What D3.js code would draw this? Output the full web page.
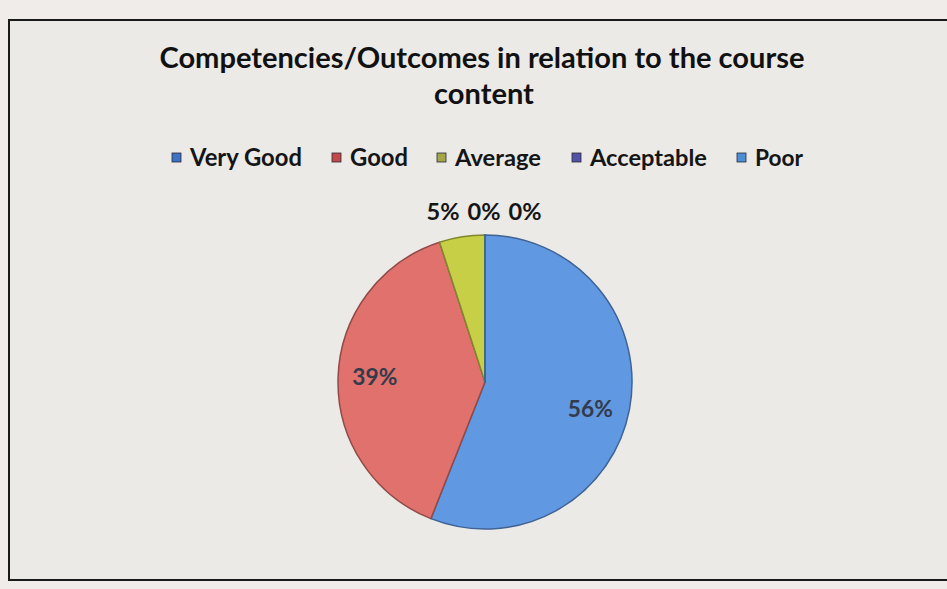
<!DOCTYPE html>
<html><head><meta charset="utf-8">
<script src="https://cdn.jsdelivr.net/npm/d3@7/dist/d3.min.js"></script>
<style>html,body{margin:0;padding:0;background:#eeebe8;overflow:hidden}</style>
</head><body><svg id="c" width="947" height="589"></svg>
<script>
const categories = ["Very Good","Good","Average","Acceptable","Poor"];
const values = [56, 39, 5, 0, 0];
const labels = ["56%","39%","5%","0%","0%"];
const sliceColors = ["#6198e2","#e0716d","#c6cf45","#7a66b0","#55b0d0"];
const swatchColors = ["#3d72c4","#c44848","#a4a646","#5253a6","#4c8fd6"];
const titleLines = ["Competencies/Outcomes in relation to the course","content"];

const svg = d3.select("#c");
const FONT = "Lato, 'Open Sans', sans-serif";

function fit(sel, w){
  const n = sel.node(); const fs = parseFloat(sel.attr("font-size"));
  const cur = n.getComputedTextLength();
  sel.attr("font-size", (fs*w/cur).toFixed(2));
}

// background & frame
svg.append("rect").attr("x",0).attr("y",0).attr("width",947).attr("height",589).attr("fill","#efece9");
svg.append("rect").attr("x",9).attr("y",20).attr("width",950).attr("height",560)
  .attr("fill","#ebeae7").attr("stroke","#1a1a1a").attr("stroke-width",2);

// title
const t1 = svg.append("text").attr("x",482).attr("y",68).attr("text-anchor","middle")
  .attr("font-family",FONT).attr("font-weight","bold").attr("font-size",26).attr("fill","#111").text(titleLines[0]);
fit(t1,645);
const t2 = svg.append("text").attr("x",484).attr("y",104).attr("text-anchor","middle")
  .attr("font-family",FONT).attr("font-weight","bold").attr("font-size",26).attr("fill","#111").text(titleLines[1]);
t2.attr("font-size", t1.attr("font-size"));

// legend
const legendX = [172, 332, 437, 572, 737];
const legendW = [112, 58, 86, 117, 48];
const lg = svg.append("g");
categories.forEach((c,i)=>{
  lg.append("rect").attr("x",legendX[i]).attr("y",153).attr("width",9).attr("height",9)
    .attr("fill",swatchColors[i]).attr("stroke","#2a2a3a").attr("stroke-width",0.8);
  const tx = lg.append("text").attr("x",legendX[i]+18).attr("y",166)
    .attr("font-family",FONT).attr("font-weight","bold").attr("font-size",22).attr("fill","#151515").text(c);
  fit(tx, legendW[i]);
});

// pie
const cx = 485, cy = 382, r = 147;
const pie = d3.pie().sort(null).value(d=>d)(values);
const arc = d3.arc().innerRadius(0).outerRadius(r);
const g = svg.append("g").attr("transform",`translate(${cx},${cy})`);
g.selectAll("path").data(pie).join("path")
  .attr("d",arc)
  .attr("fill",(d,i)=>sliceColors[i])
  .attr("stroke",(d,i)=>d3.color(sliceColors[i]).darker(1.2))
  .attr("stroke-width",1.5)
  .attr("stroke-linejoin","round");

// labels
const inner = d3.arc().innerRadius(r*0.75).outerRadius(r*0.75);
const outsideIdx = pie.map((d,i)=>i).filter(i=>values[i] < 10);
pie.forEach((d,i)=>{
  if (values[i] >= 10){
    const [x,y] = inner.centroid(d);
    const tx = g.append("text").attr("x",x - (x>0?3:0)).attr("y",y + (y>10?14:6)).attr("text-anchor","middle")
      .attr("font-family",FONT).attr("font-weight","bold").attr("font-size",18).attr("fill","#333b4a").text(labels[i]);
    fit(tx,45);
  }
});
const spacing = 41;
outsideIdx.forEach((i,k)=>{
  const x = (k - (outsideIdx.length-1)/2)*spacing - 1;
  const tx = g.append("text").attr("x",x).attr("y",-r-15).attr("text-anchor","middle")
    .attr("font-family",FONT).attr("font-weight","bold").attr("font-size",20).attr("fill","#151515").text(labels[i]);
  fit(tx,33);
});
</script></body></html>
